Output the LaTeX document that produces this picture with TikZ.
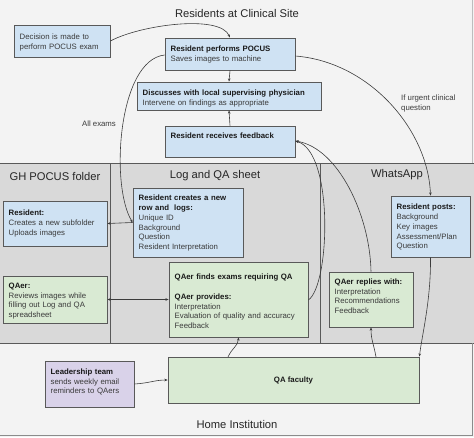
\documentclass[tikz,border=0pt]{standalone}
\usepackage{fontspec}
\setmainfont{Liberation Sans}
\usetikzlibrary{fit,calc,arrows.meta}
\definecolor{bluef}{HTML}{CFE2F3}
\definecolor{greenf}{HTML}{D9EAD3}
\definecolor{purplef}{HTML}{D9D2E9}
\definecolor{bandf}{HTML}{D9D9D9}
\definecolor{pagef}{HTML}{F3F3F3}
\definecolor{edge}{HTML}{595959}
\definecolor{wire}{HTML}{3C3C3C}
\definecolor{bodytext}{HTML}{3A3A3A}
\tikzset{
  boxbase/.style={draw=edge, line width=0.8pt, inner sep=0pt},
  bluebox/.style={boxbase, fill=bluef},
  greenbox/.style={boxbase, fill=greenf},
  purplebox/.style={boxbase, fill=purplef},
  txt/.style={inner sep=0pt, text width=200pt, align=left, text=bodytext,
    font=\fontsize{7.8}{9.75}\selectfont},
  ttl/.style={inner sep=0pt, text=black!85, font=\fontsize{11.2}{13}\selectfont},
  lbl/.style={inner sep=0pt, text=bodytext, align=left, font=\fontsize{7.8}{9.8}\selectfont},
  wire/.style={draw=wire, line width=0.6pt, -{Stealth[length=3.2pt,width=2.6pt]}},
}
\newcommand{\hd}[1]{{\bfseries\color{black!90}#1}}
% style, name, x1, y1, x2, y2, first-line centre offset, text
\newcommand{\bx}[8]{%
  \path (#3,#4) coordinate (#2-nw) (#5,#6) coordinate (#2-se);
  \node[#1, fit=(#2-nw)(#2-se)] (#2) {};
  \node[txt, anchor=base west] (#2-t) at ($(#2-nw)+(5.5,#7+2.8)$) {#8};
}
\begin{document}
\begin{tikzpicture}[x=1pt,y=-1pt]
\useasboundingbox (0,0) rectangle (474,437);
% background bands
\fill[pagef] (0,0) rectangle (474,437);
\draw[edge, line width=0.8pt, fill=bandf] (-2,163) rectangle (476,343);
\draw[edge, line width=0.8pt] (110,163) -- (110,343);
\draw[edge, line width=0.8pt] (320,163) -- (320,343);
\draw[edge!70, line width=1pt] (-2,435.5) -- (472,435.5) -- (472,343);
\draw[edge!40, line width=0.6pt] (472,163) -- (472,-2);

% titles
\node[ttl] (tsite) at (237,13) {Residents at Clinical Site};
\node[ttl] (tgh) at (55,176) {GH POCUS folder};
\node[ttl] (tlog) at (215,176) {Log and QA sheet};
\node[ttl] (twa) at (397,175) {WhatsApp};
\node[ttl] (thome) at (237,424) {Home Institution};

% boxes
\bx{bluebox}{decision}{14}{25}{110}{57}{12}{Decision is made to\\perform POCUS exam}
\bx{bluebox}{performs}{165}{38}{295}{70}{11}{\hd{Resident performs POCUS}\\Saves images to machine}
\bx{bluebox}{discuss}{137}{82}{321}{110}{11}{\hd{Discusses with local supervising physician}\\Intervene on findings as appropriate}
\bx{bluebox}{feedback}{165}{126}{295}{157}{10}{\hd{Resident receives feedback}}
\bx{bluebox}{creates}{133}{188}{243}{257}{10}{\hd{Resident creates a new}\\\hd{row and\ \ logs:}\\Unique ID\\Background\\Question\\Resident Interpretation}
\bx{bluebox}{ghres}{3}{201}{107}{246}{12}{\hd{Resident:}\\Creates a new subfolder\\Uploads images}
\bx{greenbox}{ghqaer}{3}{276}{107}{323}{9.5}{\hd{QAer:}\\Reviews images while\\filling out Log and QA\\spreadsheet}
\bx{greenbox}{finds}{169}{262}{308}{337}{15}{\hd{QAer finds exams requiring QA}\\[9.75pt]\hd{QAer provides:}\\Interpretation\\Evaluation of quality and accuracy\\Feedback}
\bx{greenbox}{replies}{329}{272}{413}{327}{9.5}{\hd{QAer replies with:}\\Interpretation\\Recommendations\\Feedback}
\bx{bluebox}{posts}{391}{196}{470}{257}{11}{\hd{Resident posts:}\\Background\\Key images\\Assessment/Plan\\Question}
\bx{purplebox}{leader}{45}{361}{134}{407}{10.5}{\hd{Leadership team}\\sends weekly email\\reminders to QAers}
\path (168,357) coordinate (qaf-nw) (419,403) coordinate (qaf-se);
\node[greenbox, fit=(qaf-nw)(qaf-se)] (qaf) {};
\node[inner sep=0pt, font=\fontsize{7.8}{9.75}\selectfont\bfseries, text=black!90] (qaf-t) at (qaf.center) {QA faculty};

% connectors
\draw[wire] (decision.east) .. controls (140,25) and (220,14) .. (performs.north);
\draw[wire] (performs.south) -- (discuss.north);
\draw[wire] (feedback.north) -- (discuss.south);
\draw[wire] ([yshift=-1pt]performs.west) .. controls (118,60) and (110,185) .. (creates.west);
\node[lbl] (lallexams) at (99,124) {All exams};
\draw[wire] ([yshift=-2pt]performs.east) .. controls (370,62) and (428,130) .. (posts.north);
\node[lbl, anchor=north west] (lurgent) at (401,94.5) {If urgent clinical\\question};
\draw[wire] (creates.west) -- (ghres.east);
\draw[wire, {Stealth[length=3.2pt,width=2.6pt]}-{Stealth[length=3.2pt,width=2.6pt]}] (ghqaer.east) -- (finds.west |- ghqaer.east);
\draw[wire] (finds.east |- 0,300) .. controls (330,285) and (334,152) .. ([yshift=0.5pt]feedback.east);
\draw[wire] (replies.north) .. controls (370,215) and (338,148) .. ([yshift=0.5pt]feedback.east);
\draw[wire] (228,357) .. controls (232,348) and (238,346) .. (finds.south);
\draw[wire] (376,357) .. controls (374,345) and (371,340) .. (replies.south);
\draw[wire] (posts.south) .. controls (431,300) and (422,335) .. (qaf.north east);
\draw[wire] (leader.east) .. controls (150,383) and (155,380) .. (qaf.west |- 0,380);
\end{tikzpicture}
\end{document}
